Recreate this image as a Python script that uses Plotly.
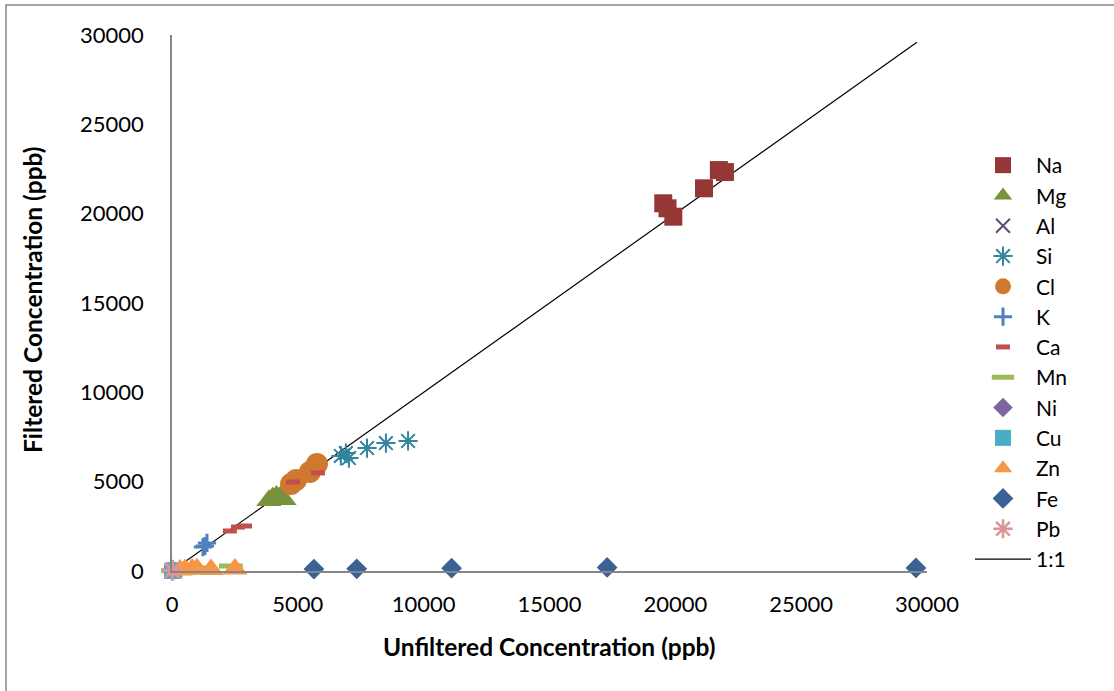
import plotly.graph_objects as go

# ---- data (ppb) ----
na_x = [19520, 19690, 19920, 21140, 21730, 21970]
na_y = [20580, 20300, 19830, 21420, 22440, 22330]
mg_x = [3850, 4000, 4150, 4300, 4450]
mg_y = [3950, 4100, 4200, 4150, 4000]
al_x = [80, 120]
al_y = [40, 60]
si_x = [6710, 6910, 7030, 7750, 8500, 9380]
si_y = [6440, 6600, 6320, 6880, 7160, 7280]
cl_x = [4730, 4930, 5480, 5760]
cl_y = [4870, 5090, 5540, 5990]
k_x = [1230, 1310, 1390]
k_y = [1340, 1400, 1570]
ca_x = [2300, 2620, 2900, 4810, 5800]
ca_y = [2240, 2460, 2520, 4980, 5490]
mn_x = [40, 1230, 2340]
mn_y = [20, 170, 280]
ni_x = [30, 60]
ni_y = [20, 30]
cu_x = [0, 40, 90]
cu_y = [0, 20, 40]
zn_x = [320, 520, 800, 990, 1550, 2500]
zn_y = [60, 80, 110, 130, 80, 110]
fe_x = [5640, 7340, 11110, 17290, 29560]
fe_y = [110, 120, 160, 200, 170]
pb_x = [0, 30]
pb_y = [20, 60]
one_x = [0, 29600]
one_y = [0, 29600]
tick_vals = [0, 5000, 10000, 15000, 20000, 25000, 30000]
tick_text = ["0", "5000", "10000", "15000", "20000", "25000", "30000"]

series = [
    ("Na", na_x, na_y, dict(symbol="square", size=18, color="#953735")),
    ("Mg", mg_x, mg_y, dict(symbol="triangle-up", size=22, color="#77933C")),
    ("Al", al_x, al_y, dict(symbol="x-thin-open", size=14, color="#604A7B", line=dict(width=2, color="#604A7B"))),
    ("Si", si_x, si_y, dict(symbol="asterisk-open", size=16, color="#31859C", line=dict(width=2, color="#31859C"))),
    ("Cl", cl_x, cl_y, dict(symbol="circle", size=22, color="#D0782F")),
    ("K", k_x, k_y, dict(symbol="cross-thin-open", size=13, color="#4F81BD", line=dict(width=3, color="#4F81BD"))),
    ("Ca", ca_x, ca_y, dict(symbol="line-ew-open", size=10, color="#C0504D", line=dict(width=5, color="#C0504D"))),
    ("Mn", mn_x, mn_y, dict(symbol="line-ew-open", size=17, color="#9BBB59", line=dict(width=5, color="#9BBB59"))),
    ("Ni", ni_x, ni_y, dict(symbol="diamond", size=15, color="#8064A2")),
    ("Cu", cu_x, cu_y, dict(symbol="square", size=16, color="#4BACC6")),
    ("Zn", zn_x, zn_y, dict(symbol="triangle-up", size=22, color="#F79646")),
    ("Fe", fe_x, fe_y, dict(symbol="diamond", size=16, color="#3A6296")),
    ("Pb", pb_x, pb_y, dict(symbol="asterisk-open", size=17, color="#D99694", line=dict(width=2.5, color="#D99694"))),
]

FONT = "Lato"
fig = go.Figure()

# 1:1 line drawn first (behind markers) but listed last in legend
fig.add_trace(go.Scatter(x=one_x, y=one_y, mode="lines", name="1:1",
                         line=dict(color="black", width=1.2), legendrank=2000,
                         cliponaxis=False))

for name, xs, ys, mk in series:
    fig.add_trace(go.Scatter(x=xs, y=ys, mode="markers", name=name, marker=mk,
                             cliponaxis=False, legendrank=1000))

L, R, T, B = 172, 187, 35, 120
W, H = 1114, 691
pw, ph = W - L - R, H - T - B

def px_x(p):
    return (p - L) / pw

def px_y(p):
    return (H - B - p) / ph

fig.update_layout(
    width=W, height=H,
    margin=dict(l=L, r=R, t=T, b=B, autoexpand=False),
    paper_bgcolor="white", plot_bgcolor="white",
    font=dict(family=FONT, size=22, color="black"),
    showlegend=True,
    legend=dict(x=px_x(970), y=px_y(145), xanchor="left", yanchor="top",
                font=dict(family=FONT, size=21, color="black"),
                itemwidth=56, bgcolor="rgba(0,0,0,0)", traceorder="normal"),
    xaxis=dict(range=[0, 30000], tickvals=tick_vals, ticktext=tick_text,
               showgrid=False, zeroline=False, showline=True, linecolor="#868686", linewidth=1.5,
               ticks="outside", ticklen=13, tickcolor="rgba(0,0,0,0)",
               tickfont=dict(family=FONT, size=22), fixedrange=True),
    yaxis=dict(range=[0, 30000], tickvals=tick_vals, ticktext=tick_text,
               showgrid=False, zeroline=False, showline=True, linecolor="#868686", linewidth=1.5,
               ticks="outside", ticklen=22, tickcolor="rgba(0,0,0,0)",
               tickfont=dict(family=FONT, size=22), fixedrange=True),
    annotations=[
        dict(text="<b>Unfiltered Concentration (ppb)</b>", xref="paper", yref="paper",
             x=px_x(549), y=px_y(646), showarrow=False, xanchor="center", yanchor="middle",
             font=dict(family=FONT, size=24.5, color="black")),
        dict(text="<b>Filtered Concentration (ppb)</b>", xref="paper", yref="paper",
             x=px_x(32), y=px_y(300), showarrow=False, xanchor="center", yanchor="middle",
             textangle=-90, font=dict(family=FONT, size=24.5, color="black")),
    ],
    shapes=[
        dict(type="rect", xref="paper", yref="paper",
             x0=px_x(6), x1=px_x(1200), y0=px_y(760), y1=px_y(5),
             line=dict(color="#878787", width=1.5), fillcolor="rgba(0,0,0,0)", layer="below"),
    ],
)

fig.write_html("out.html")
